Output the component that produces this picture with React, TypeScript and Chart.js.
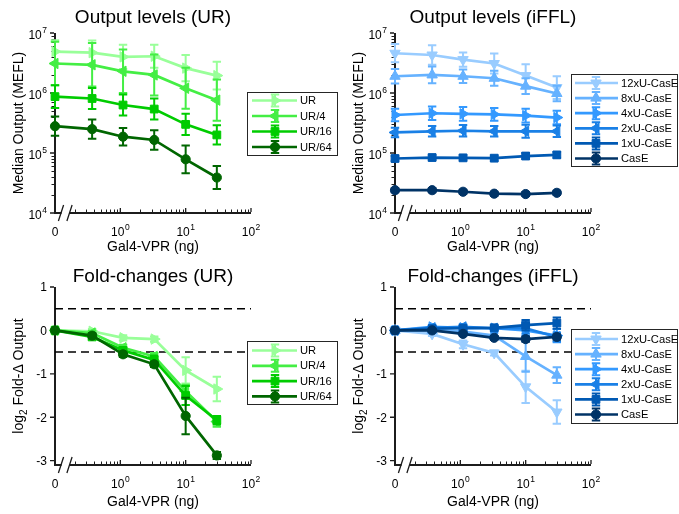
import React, { useEffect, useRef } from 'react';
import { Chart, registerables } from 'chart.js';
import { drawPoint } from 'chart.js/helpers';

Chart.register(...registerables);

const FONT = '"Liberation Sans", Arial, Helvetica, sans-serif';
const AXIS_COLOR = '#1c1c1c';

// ---------------- data ----------------
const DOSES = [0, 0.37, 1.1, 3.3, 10, 30];
const ZERO_DOSE_POS = 0.1; // dose 0 drawn at the broken-axis origin
const X_MIN = 0.1;
const X_MAX = 100;

const X_TICKS = [0.1, 1, 10, 100];
const X_TICK_BASE = ['0', '10', '10', '10'];
const X_TICK_EXP = ['', '0', '1', '2'];

const LOG_Y_TICKS = [1e4, 1e5, 1e6, 1e7];
const LOG_Y_BASE = ['10', '10', '10', '10'];
const LOG_Y_EXP = ['4', '5', '6', '7'];

const FOLD_Y_TICKS = [1, 0, -1, -2, -3];
const FOLD_Y_LABELS = ['1', '0', '-1', '-2', '-3'];
const FOLD_REF_LINES = [0.5, -0.5];

const UR_NAMES = ['UR', 'UR/4', 'UR/16', 'UR/64'];
const IFFL_NAMES = ['12xU-CasE', '8xU-CasE', '4xU-CasE', '2xU-CasE', '1xU-CasE', 'CasE'];

// Output levels (MEFL), error = multiplicative spread
const UR_OUT = [4.9e6, 4.7e6, 4.0e6, 4.1e6, 2.6e6, 1.95e6];
const UR_OUT_ERR = [1.55, 1.6, 1.6, 1.55, 1.65, 1.7];
const UR4_OUT = [3.1e6, 2.95e6, 2.3e6, 2.0e6, 1.2e6, 7.6e5];
const UR4_OUT_ERR = [2.3, 2.3, 2.3, 2.2, 2.2, 2.2];
const UR16_OUT = [8.7e5, 8.1e5, 6.3e5, 5.4e5, 3.0e5, 2.0e5];
const UR16_OUT_ERR = [1.55, 1.5, 1.5, 1.5, 1.5, 1.45];
const UR64_OUT = [2.8e5, 2.5e5, 1.87e5, 1.65e5, 7.85e4, 3.9e4];
const UR64_OUT_ERR = [1.45, 1.45, 1.4, 1.45, 1.7, 1.55];

const U12_OUT = [4.6e6, 4.3e6, 3.6e6, 3.1e6, 1.95e6, 1.23e6];
const U12_OUT_ERR = [1.42, 1.45, 1.32, 1.47, 1.55, 1.55];
const U8_OUT = [1.9e6, 2.0e6, 1.9e6, 1.76e6, 1.3e6, 9.8e5];
const U8_OUT_ERR = [1.32, 1.38, 1.3, 1.33, 1.35, 1.35];
const U4_OUT = [4.3e5, 4.6e5, 4.5e5, 4.4e5, 4.2e5, 3.9e5];
const U4_OUT_ERR = [1.27, 1.3, 1.3, 1.28, 1.3, 1.3];
const U2_OUT = [2.2e5, 2.3e5, 2.35e5, 2.3e5, 2.3e5, 2.3e5];
const U2_OUT_ERR = [1.2, 1.22, 1.25, 1.22, 1.28, 1.25];
const U1_OUT = [8.1e4, 8.4e4, 8.3e4, 8.2e4, 8.9e4, 9.3e4];
const U1_OUT_ERR = [1.1, 1.1, 1.1, 1.1, 1.12, 1.12];
const CASE_OUT = [2.4e4, 2.4e4, 2.26e4, 2.1e4, 2.07e4, 2.17e4];
const CASE_OUT_ERR = [1.08, 1.08, 1.08, 1.08, 1.08, 1.08];

// log2 fold-changes, error = +/- half width
const UR_FOLD = [0, -0.02, -0.17, -0.2, -0.92, -1.35];
const UR_FOLD_ERR = [0.03, 0.05, 0.06, 0.06, 0.3, 0.28];
const UR4_FOLD = [0, -0.06, -0.4, -0.6, -1.4, -2.1];
const UR4_FOLD_ERR = [0.03, 0.05, 0.07, 0.08, 0.15, 0.12];
const UR16_FOLD = [0, -0.15, -0.46, -0.68, -1.5, -2.07];
const UR16_FOLD_ERR = [0.03, 0.05, 0.07, 0.1, 0.22, 0.1];
const UR64_FOLD = [0, -0.12, -0.55, -0.78, -1.97, -2.88];
const UR64_FOLD_ERR = [0.03, 0.06, 0.06, 0.06, 0.42, 0.08];

const U12_FOLD = [0, -0.08, -0.32, -0.52, -1.3, -1.88];
const U12_FOLD_ERR = [0.03, 0.05, 0.09, 0.06, 0.37, 0.27];
const U8_FOLD = [0, 0.0, -0.03, -0.12, -0.6, -1.03];
const U8_FOLD_ERR = [0.03, 0.06, 0.06, 0.06, 0.35, 0.18];
const U4_FOLD = [0, 0.08, 0.06, 0.05, 0.0, -0.12];
const U4_FOLD_ERR = [0.03, 0.05, 0.06, 0.06, 0.12, 0.15];
const U2_FOLD = [0, 0.06, 0.08, 0.05, 0.05, -0.15];
const U2_FOLD_ERR = [0.03, 0.05, 0.06, 0.05, 0.12, 0.1];
const U1_FOLD = [0, 0.04, 0.05, 0.06, 0.12, 0.17];
const U1_FOLD_ERR = [0.03, 0.04, 0.05, 0.04, 0.12, 0.13];
const CASE_FOLD = [0, 0.0, -0.08, -0.17, -0.2, -0.15];
const CASE_FOLD_ERR = [0.02, 0.03, 0.04, 0.04, 0.06, 0.06];

// ---------------- styles ----------------
const UR_COLORS = ['#99ff99', '#44ee44', '#00cc00', '#006600'];
const IFFL_COLORS = ['#99ccff', '#66b2ff', '#3399ff', '#1a80e6', '#0059b3', '#003366'];
const UR_MARKERS = [
  { style: 'triangle', rot: 90, r: 6 },
  { style: 'triangle', rot: -90, r: 6 },
  { style: 'rect', rot: 0, r: 5.5 },
  { style: 'circle', rot: 0, r: 4.6 },
];
const IFFL_MARKERS = [
  { style: 'triangle', rot: 180, r: 6 },
  { style: 'triangle', rot: 0, r: 6 },
  { style: 'triangle', rot: 90, r: 6 },
  { style: 'triangle', rot: -90, r: 6 },
  { style: 'rect', rot: 0, r: 5.5 },
  { style: 'circle', rot: 0, r: 4.6 },
];
const LINE_WIDTH = 2.7;

function buildDatasets(names: string[], vals: number[][], errs: number[][], colors: string[], markers: any[], mode: 'mult' | 'pm', refs: number[]) {
  const n = names.length;
  const ds: any[] = names.map((name, i) => {
    const v = vals[i];
    const e = errs[i];
    const c = colors[i];
    return {
      label: name,
      data: DOSES.map((d, j) => ({ x: d === 0 ? ZERO_DOSE_POS : d, y: v[j] })),
      errLow: v.map((y, j) => (mode === 'mult' ? y / e[j] : y - e[j])),
      errHigh: v.map((y, j) => (mode === 'mult' ? y * e[j] : y + e[j])),
      borderColor: c,
      backgroundColor: c,
      pointBackgroundColor: c,
      pointBorderColor: c,
      pointBorderWidth: 1,
      borderWidth: LINE_WIDTH,
      pointStyle: markers[i].style,
      pointRotation: markers[i].rot,
      pointRadius: markers[i].r,
      tension: 0,
      clip: false,
      order: n - i,
    };
  });
  refs.forEach((r) => {
    ds.push({
      label: '_ref',
      data: [{ x: X_MIN, y: r }, { x: X_MAX, y: r }],
      borderColor: '#000',
      borderWidth: 1.5,
      borderDash: [8, 5],
      pointRadius: 0,
      clip: false,
      order: 100,
    });
  });
  return ds;
}

function font(size: number) {
  return `${size}px ${FONT}`;
}

function drawSup(ctx: CanvasRenderingContext2D, base: string, exp: string, x: number, y: number, align: 'center' | 'right') {
  ctx.font = font(12);
  const wb = ctx.measureText(base).width;
  ctx.font = font(8.5);
  const we = exp ? ctx.measureText(exp).width + 0.5 : 0;
  const total = wb + we;
  const left = align === 'center' ? x - total / 2 : x - total;
  ctx.textAlign = 'left';
  ctx.textBaseline = 'alphabetic';
  ctx.font = font(12);
  ctx.fillText(base, left, y);
  if (exp) {
    ctx.font = font(8.5);
    ctx.fillText(exp, left + wb + 0.5, y - 5.5);
  }
}

function makeDecor(spec: any) {
  return {
    id: 'decor',
    beforeDatasetsDraw(chart: any) {
      const ctx: CanvasRenderingContext2D = chart.ctx;
      const { left, right, top, bottom } = chart.chartArea;
      const xs = chart.scales.x;
      const ys = chart.scales.y;
      ctx.save();
      ctx.fillStyle = '#000';
      // title
      ctx.font = font(19);
      ctx.textAlign = 'center';
      ctx.textBaseline = 'alphabetic';
      ctx.fillText(spec.title, (left + right) / 2, spec.titleY);

      // axes
      ctx.strokeStyle = AXIS_COLOR;
      ctx.lineWidth = 2;
      ctx.beginPath();
      ctx.moveTo(left, top);
      ctx.lineTo(left, bottom + 1);
      ctx.stroke();
      ctx.beginPath();
      ctx.moveTo(left - 1, bottom);
      ctx.lineTo(left + 6.5, bottom);
      ctx.moveTo(left + 14, bottom);
      ctx.lineTo(right, bottom);
      ctx.stroke();
      // break marks
      ctx.lineWidth = 1.3;
      ctx.beginPath();
      [left + 6, left + 14.5].forEach((cx) => {
        ctx.moveTo(cx - 2.6, bottom + 8);
        ctx.lineTo(cx + 2.6, bottom - 8);
      });
      ctx.stroke();

      // x ticks
      ctx.lineWidth = 1;
      ctx.beginPath();
      [0.1, 1, 10].forEach((dec) => {
        for (let m = 2; m <= 9; m++) {
          const px = Math.round(xs.getPixelForValue(m * dec)) + 0.5;
          ctx.moveTo(px, bottom - 1);
          ctx.lineTo(px, bottom - 3.5);
        }
      });
      ctx.stroke();
      ctx.lineWidth = 1.3;
      ctx.beginPath();
      X_TICKS.slice(1).forEach((v) => {
        const px = xs.getPixelForValue(v);
        ctx.moveTo(px, bottom - 1);
        ctx.lineTo(px, bottom - 5);
      });
      ctx.stroke();
      // x tick labels
      ctx.fillStyle = '#000';
      X_TICKS.forEach((v, i) => {
        drawSup(ctx, X_TICK_BASE[i], X_TICK_EXP[i], xs.getPixelForValue(v), bottom + 22.5, 'center');
      });

      // y ticks
      if (spec.logY) {
        ctx.lineWidth = 1;
        ctx.beginPath();
        [1e4, 1e5, 1e6].forEach((dec) => {
          for (let m = 2; m <= 9; m++) {
            const py = Math.round(ys.getPixelForValue(m * dec)) + 0.5;
            ctx.moveTo(left - 1, py);
            ctx.lineTo(left - 3.5, py);
          }
        });
        ctx.stroke();
      }
      ctx.lineWidth = 1.3;
      ctx.beginPath();
      spec.yTicks.forEach((v: number) => {
        const py = ys.getPixelForValue(v);
        ctx.moveTo(left - 1, py);
        ctx.lineTo(left - 5, py);
      });
      ctx.stroke();
      spec.yTicks.forEach((v: number, i: number) => {
        const py = ys.getPixelForValue(v);
        if (spec.logY) {
          drawSup(ctx, spec.yBase[i], spec.yExp[i], left - 8, py + 5.5, 'right');
        } else {
          ctx.font = font(12);
          ctx.textAlign = 'right';
          ctx.textBaseline = 'alphabetic';
          ctx.fillText(spec.yBase[i], left - 8, py + 4.3);
        }
      });

      // x label
      ctx.font = font(14);
      ctx.textAlign = 'center';
      ctx.textBaseline = 'alphabetic';
      ctx.fillText('Gal4-VPR (ng)', (left + right) / 2, spec.xLabelY);

      // y label (rotated)
      ctx.save();
      ctx.translate(spec.yLabelX, (top + bottom) / 2);
      ctx.rotate(-Math.PI / 2);
      const pieces = spec.logY
        ? [{ t: 'Median Output (MEFL)', s: 14, dy: 0 }]
        : [
            { t: 'log', s: 14, dy: 0 },
            { t: '2', s: 10, dy: 4 },
            { t: ' Fold-\u0394 Output', s: 14, dy: 0 },
          ];
      let total = 0;
      pieces.forEach((p) => {
        ctx.font = font(p.s);
        total += ctx.measureText(p.t).width;
      });
      let cx = -total / 2;
      ctx.textAlign = 'left';
      pieces.forEach((p) => {
        ctx.font = font(p.s);
        ctx.fillText(p.t, cx, 5 + p.dy);
        cx += ctx.measureText(p.t).width;
      });
      ctx.restore();
      ctx.restore();
    },
    beforeDatasetDraw(chart: any, args: any) {
      const ds = chart.data.datasets[args.index];
      if (!ds.errLow) return;
      const ctx: CanvasRenderingContext2D = chart.ctx;
      const ys = chart.scales.y;
      ctx.save();
      ctx.strokeStyle = ds.borderColor;
      ctx.lineWidth = 2;
      ctx.beginPath();
      args.meta.data.forEach((pt: any, j: number) => {
        const x = pt.x;
        const yl = ys.getPixelForValue(ds.errLow[j]);
        const yh = ys.getPixelForValue(ds.errHigh[j]);
        ctx.moveTo(x, yl);
        ctx.lineTo(x, yh);
        ctx.moveTo(x - 4.2, yl);
        ctx.lineTo(x + 4.2, yl);
        ctx.moveTo(x - 4.2, yh);
        ctx.lineTo(x + 4.2, yh);
      });
      ctx.stroke();
      ctx.restore();
    },
    afterDraw(chart: any) {
      const L = spec.legend;
      const ctx: CanvasRenderingContext2D = chart.ctx;
      ctx.save();
      ctx.fillStyle = '#fff';
      ctx.fillRect(L.x0, L.y0, L.x1 - L.x0, L.y1 - L.y0);
      ctx.strokeStyle = '#262626';
      ctx.lineWidth = 1;
      ctx.strokeRect(L.x0 + 0.5, L.y0 + 0.5, L.x1 - L.x0 - 1, L.y1 - L.y0 - 1);
      const items = chart.data.datasets.filter((d: any) => d.label !== '_ref');
      items.forEach((d: any, i: number) => {
        const y = L.rowY + i * L.rowStep;
        const mid = L.mid;
        ctx.strokeStyle = d.borderColor;
        ctx.lineWidth = LINE_WIDTH;
        ctx.beginPath();
        ctx.moveTo(L.lineX0, y);
        ctx.lineTo(L.lineX1, y);
        ctx.stroke();
        ctx.lineWidth = 2;
        ctx.beginPath();
        ctx.moveTo(mid, y - 6);
        ctx.lineTo(mid, y + 6);
        ctx.moveTo(mid - 4.2, y - 6);
        ctx.lineTo(mid + 4.2, y - 6);
        ctx.moveTo(mid - 4.2, y + 6);
        ctx.lineTo(mid + 4.2, y + 6);
        ctx.stroke();
        ctx.fillStyle = d.pointBackgroundColor;
        ctx.strokeStyle = d.pointBorderColor;
        ctx.lineWidth = 1;
        drawPoint(ctx, { pointStyle: d.pointStyle, rotation: d.pointRotation, radius: d.pointRadius, borderWidth: 1 } as any, mid, y);
        ctx.fillStyle = '#000';
        ctx.font = font(11.2);
        ctx.textAlign = 'left';
        ctx.textBaseline = 'middle';
        ctx.fillText(d.label, L.textX, y + 0.5);
      });
      ctx.restore();
    },
  };
}

const LEGEND_LEFT = { x0: 247, x1: 338, lineX0: 252, lineX1: 297, mid: 275, textX: 300 };
const LEGEND_RIGHT = { x0: 231, x1: 338, lineX0: 235, lineX1: 278, mid: 256, textX: 281 };

const TOP_AREA = { left: 55, top: 33, right: 251, bottom: 213 };
const BOTTOM_AREA = { left: 55, top: 30, right: 251, bottom: 208 };

const PANELS = [
  {
    key: 'tl', x: 0, y: 0, w: 340, h: 257, area: TOP_AREA,
    title: 'Output levels (UR)', titleY: 23, xLabelY: 250.5, yLabelX: 17.5,
    logY: true, yMin: 1e4, yMax: 1e7, yTicks: LOG_Y_TICKS, yBase: LOG_Y_BASE, yExp: LOG_Y_EXP,
    datasets: buildDatasets(UR_NAMES, [UR_OUT, UR4_OUT, UR16_OUT, UR64_OUT], [UR_OUT_ERR, UR4_OUT_ERR, UR16_OUT_ERR, UR64_OUT_ERR], UR_COLORS, UR_MARKERS, 'mult', []),
    legend: { ...LEGEND_LEFT, y0: 92, y1: 156, rowY: 100.5, rowStep: 15.5 },
  },
  {
    key: 'tr', x: 340, y: 0, w: 339, h: 257, area: TOP_AREA,
    title: 'Output levels (iFFL)', titleY: 23, xLabelY: 250.5, yLabelX: 17.5,
    logY: true, yMin: 1e4, yMax: 1e7, yTicks: LOG_Y_TICKS, yBase: LOG_Y_BASE, yExp: LOG_Y_EXP,
    datasets: buildDatasets(IFFL_NAMES, [U12_OUT, U8_OUT, U4_OUT, U2_OUT, U1_OUT, CASE_OUT], [U12_OUT_ERR, U8_OUT_ERR, U4_OUT_ERR, U2_OUT_ERR, U1_OUT_ERR, CASE_OUT_ERR], IFFL_COLORS, IFFL_MARKERS, 'mult', []),
    legend: { ...LEGEND_RIGHT, y0: 74, y1: 167, rowY: 83, rowStep: 15.1 },
  },
  {
    key: 'bl', x: 0, y: 257, w: 340, h: 257, area: BOTTOM_AREA,
    title: 'Fold-changes (UR)', titleY: 25, xLabelY: 249, yLabelX: 18,
    logY: false, yMin: -3.1, yMax: 1, yTicks: FOLD_Y_TICKS, yBase: FOLD_Y_LABELS, yExp: [],
    datasets: buildDatasets(UR_NAMES, [UR_FOLD, UR4_FOLD, UR16_FOLD, UR64_FOLD], [UR_FOLD_ERR, UR4_FOLD_ERR, UR16_FOLD_ERR, UR64_FOLD_ERR], UR_COLORS, UR_MARKERS, 'pm', FOLD_REF_LINES),
    legend: { ...LEGEND_LEFT, y0: 84, y1: 148, rowY: 93.5, rowStep: 15.3 },
  },
  {
    key: 'br', x: 340, y: 257, w: 339, h: 257, area: BOTTOM_AREA,
    title: 'Fold-changes (iFFL)', titleY: 25, xLabelY: 249, yLabelX: 18,
    logY: false, yMin: -3.1, yMax: 1, yTicks: FOLD_Y_TICKS, yBase: FOLD_Y_LABELS, yExp: [],
    datasets: buildDatasets(IFFL_NAMES, [U12_FOLD, U8_FOLD, U4_FOLD, U2_FOLD, U1_FOLD, CASE_FOLD], [U12_FOLD_ERR, U8_FOLD_ERR, U4_FOLD_ERR, U2_FOLD_ERR, U1_FOLD_ERR, CASE_FOLD_ERR], IFFL_COLORS, IFFL_MARKERS, 'pm', FOLD_REF_LINES),
    legend: { ...LEGEND_RIGHT, y0: 72, y1: 167, rowY: 82, rowStep: 15.1 },
  },
];

function Panel({ spec }: { spec: any }) {
  const ref = useRef<HTMLCanvasElement | null>(null);
  useEffect(() => {
    if (!ref.current) return;
    const a = spec.area;
    const chart = new Chart(ref.current, {
      type: 'line',
      data: { datasets: spec.datasets },
      options: {
        animation: false,
        responsive: false,
        maintainAspectRatio: false,
        devicePixelRatio: 1,
        events: [],
        layout: { padding: { left: a.left, top: a.top, right: spec.w - a.right, bottom: spec.h - a.bottom } },
        scales: {
          x: { type: 'logarithmic', min: X_MIN, max: X_MAX, display: false, bounds: 'data' },
          y: spec.logY
            ? { type: 'logarithmic', min: spec.yMin, max: spec.yMax, display: false, bounds: 'data' }
            : { type: 'linear', min: spec.yMin, max: spec.yMax, display: false, bounds: 'data' },
        },
        plugins: { legend: { display: false }, tooltip: { enabled: false }, title: { display: false } },
      } as any,
      plugins: [makeDecor(spec)],
    });
    return () => chart.destroy();
  }, [spec]);
  return (
    <canvas
      ref={ref}
      width={spec.w}
      height={spec.h}
      style={{ position: 'absolute', left: spec.x, top: spec.y, width: spec.w, height: spec.h }}
    />
  );
}

export default function App() {
  return (
    <div style={{ position: 'absolute', left: 0, top: 0, width: 679, height: 514, background: '#fff' }}>
      {PANELS.map((p) => (
        <Panel key={p.key} spec={p} />
      ))}
    </div>
  );
}
